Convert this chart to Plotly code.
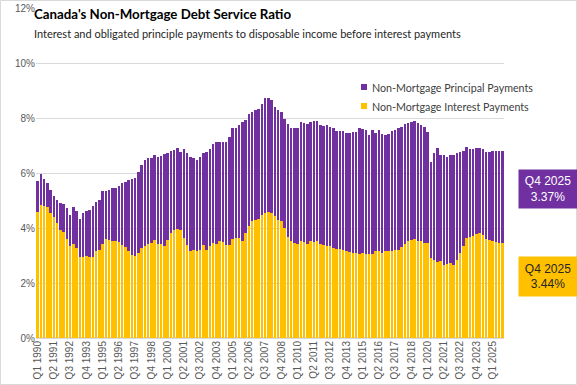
import plotly.graph_objects as go

years = list(range(1990, 2026))
quarters = [f"Q{q} {y}" for y in years for q in range(1, 5)]
tick_labels = quarters[::5]

interest = [
    4.59, 4.84, 4.80, 4.75, 4.56, 4.39, 4.20, 3.91, 3.85, 3.60,
    3.36, 3.41, 3.27, 2.96, 2.96, 2.99, 2.94, 2.96, 3.15, 3.21,
    3.41, 3.60, 3.57, 3.53, 3.51, 3.48, 3.39, 3.30, 3.18, 3.03,
    3.00, 3.09, 3.27, 3.36, 3.41, 3.45, 3.57, 3.41, 3.41, 3.35,
    3.57, 3.81, 3.91, 3.97, 3.91, 3.63, 3.39, 3.15, 3.20, 3.15,
    3.20, 3.39, 3.21, 3.33, 3.45, 3.42, 3.53, 3.48, 3.39, 3.39,
    3.59, 3.63, 3.63, 3.53, 3.81, 4.08, 4.26, 4.29, 4.32, 4.47,
    4.54, 4.59, 4.54, 4.44, 4.29, 4.26, 3.99, 3.69, 3.51, 3.45,
    3.41, 3.51, 3.48, 3.41, 3.53, 3.48, 3.51, 3.41, 3.39, 3.33,
    3.35, 3.27, 3.24, 3.24, 3.21, 3.17, 3.11, 3.09, 3.09, 3.06,
    3.09, 3.05, 3.05, 3.05, 3.18, 3.15, 3.09, 3.15, 3.17, 3.17,
    3.21, 3.21, 3.30, 3.41, 3.53, 3.57, 3.60, 3.51, 3.51, 3.45,
    3.45, 2.91, 2.84, 2.78, 2.81, 2.66, 2.69, 2.72, 2.66, 2.84,
    3.09, 3.33, 3.63, 3.69, 3.72, 3.78, 3.81, 3.75, 3.60, 3.57,
    3.51, 3.48, 3.45, 3.44,
]

principal = [
    1.12, 1.14, 1.00, 0.87, 0.82, 0.77, 0.82, 1.01, 1.03, 1.12,
    1.11, 1.34, 1.35, 1.36, 1.58, 1.64, 1.72, 1.84, 1.78, 1.81,
    1.93, 1.76, 1.83, 1.91, 1.93, 2.04, 2.23, 2.36, 2.56, 2.77,
    2.83, 2.93, 3.02, 3.11, 3.12, 3.11, 3.08, 3.18, 3.21, 3.33,
    3.16, 2.98, 2.94, 2.94, 2.86, 3.24, 3.32, 3.44, 3.35, 3.32,
    3.39, 3.32, 3.56, 3.56, 3.60, 3.69, 3.58, 3.63, 3.74, 3.92,
    4.03, 4.01, 4.13, 4.33, 4.11, 4.08, 3.96, 3.99, 4.00, 4.05,
    4.18, 4.13, 4.10, 3.96, 3.99, 3.96, 3.99, 4.11, 4.14, 4.17,
    4.24, 4.35, 4.35, 4.39, 4.33, 4.40, 4.37, 4.35, 4.32, 4.41,
    4.32, 4.35, 4.28, 4.28, 4.31, 4.30, 4.36, 4.39, 4.40, 4.58,
    4.50, 4.50, 4.32, 4.50, 4.29, 4.40, 4.34, 4.25, 4.26, 4.35,
    4.34, 4.41, 4.37, 4.39, 4.30, 4.29, 4.28, 4.32, 4.25, 4.22,
    4.04, 3.50, 3.87, 4.13, 3.84, 3.99, 3.90, 3.95, 3.99, 3.87,
    3.68, 3.46, 3.30, 3.20, 3.17, 3.13, 3.10, 3.12, 3.17, 3.20,
    3.28, 3.31, 3.34, 3.37,
]

PURPLE = "#7030A0"
YELLOW = "#FFC000"
FONT = "Liberation Sans, Arial, sans-serif"
TFONT = "Lato, Liberation Sans, sans-serif"

W, H = 577, 385
ML, MR, MT, MB = 36, 73, 8, 47
PW, PH = W - ML - MR, H - MT - MB


def px(x):
    return (x - ML) / PW


def py(y):
    return (H - MB - y) / PH


fig = go.Figure()
fig.add_trace(go.Bar(x=quarters, y=interest, name="Non-Mortgage Interest Payments",
                     marker=dict(color=YELLOW, line=dict(width=0))))
fig.add_trace(go.Bar(x=quarters, y=principal, name="Non-Mortgage Principal Payments",
                     marker=dict(color=PURPLE, line=dict(width=0))))

annotations = [
    dict(text="<b>Canada's Non-Mortgage Debt Service Ratio</b>", xref="paper", yref="paper",
         x=px(32), y=py(14.5), xanchor="left", yanchor="middle", showarrow=False,
         font=dict(family=TFONT, size=13.3, color="#000000")),
    dict(text="Interest and obligated principle payments to disposable income before interest payments",
         xref="paper", yref="paper", x=px(32), y=py(34), xanchor="left", yanchor="middle",
         showarrow=False, font=dict(family=TFONT, size=11, color="#262626")),
    dict(text="Non-Mortgage Principal Payments", xref="paper", yref="paper",
         x=px(370), y=py(87), xanchor="left", yanchor="middle", showarrow=False,
         font=dict(family=TFONT, size=10.7, color="#404040")),
    dict(text="Non-Mortgage Interest Payments", xref="paper", yref="paper",
         x=px(370), y=py(106), xanchor="left", yanchor="middle", showarrow=False,
         font=dict(family=TFONT, size=10.7, color="#404040")),
    dict(text=f"Q4 2025<br>{principal[-1]:.2f}%", xref="paper", yref="paper",
         x=px(548), y=py(189), xanchor="center", yanchor="middle", showarrow=False,
         bgcolor=PURPLE, width=58, height=38, borderpad=0,
         font=dict(family=FONT, size=12, color="#FFFFFF")),
    dict(text=f"Q4 2025<br>{interest[-1]:.2f}%", xref="paper", yref="paper",
         x=px(548), y=py(276.5), xanchor="center", yanchor="middle", showarrow=False,
         bgcolor=YELLOW, width=58, height=39, borderpad=0,
         font=dict(family=FONT, size=12, color="#262626")),
]

shapes = [
    dict(type="rect", xref="paper", yref="paper", x0=px(361), x1=px(367), y0=py(90), y1=py(84),
         fillcolor=PURPLE, line=dict(width=0)),
    dict(type="rect", xref="paper", yref="paper", x0=px(361), x1=px(367), y0=py(109), y1=py(103),
         fillcolor=YELLOW, line=dict(width=0)),
    dict(type="rect", xref="paper", yref="paper", x0=px(0.5), x1=px(W - 0.5), y0=py(H - 0.5), y1=py(0.5),
         fillcolor="rgba(0,0,0,0)", line=dict(width=1, color="#D9D9D9"), layer="above"),
]

fig.update_layout(
    width=W, height=H,
    margin=dict(l=ML, r=MR, t=MT, b=MB, pad=0),
    paper_bgcolor="white", plot_bgcolor="white",
    barmode="stack", bargap=0.25,
    showlegend=False,
    annotations=annotations,
    shapes=shapes,
    font=dict(family=FONT),
)
fig.update_xaxes(
    type="category", tickmode="array", tickvals=tick_labels, ticktext=tick_labels,
    tickangle=-90, tickfont=dict(family=FONT, size=10, color="#595959"),
    showgrid=False, showline=False, ticks="", automargin=False,
)
fig.update_yaxes(
    range=[0, 12], dtick=2, ticksuffix="%", ticklabeloverflow="allow",
    tickfont=dict(family=FONT, size=10, color="#595959"),
    showgrid=True, gridcolor="#D9D9D9", gridwidth=1,
    zeroline=True, zerolinecolor="#D9D9D9", showline=False, ticks="", automargin=False,
)

fig.write_html(
    "out.html",
    config={"displayModeBar": False},
    post_script="document.body.style.margin='0';document.body.style.padding='0';"
                "document.body.style.overflow='hidden';",
)
